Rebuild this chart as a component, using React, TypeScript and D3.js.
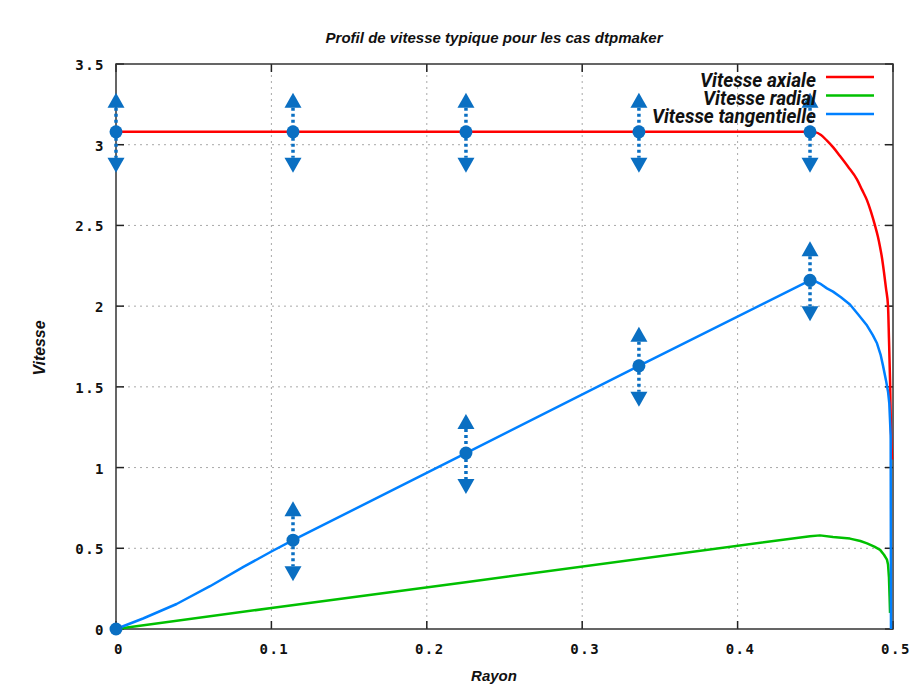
import React from "react";
import * as d3 from "d3";

const xTicks = [0, 0.1, 0.2, 0.3, 0.4, 0.5];
const yTicks = [0, 0.5, 1, 1.5, 2, 2.5, 3, 3.5];
const xTickLabels = ["0", "0.1", "0.2", "0.3", "0.4", "0.5"];
const yTickLabels = ["0", "0.5", "1", "1.5", "2", "2.5", "3", "3.5"];

const axialR = [0, 0.4466, 0.4498, 0.4537, 0.4575, 0.4614, 0.4659, 0.471, 0.4768, 0.4801, 0.4833, 0.4858, 0.4884, 0.4903, 0.4916, 0.4929, 0.4942, 0.4955, 0.4968, 0.4974, 0.4981, 0.4987, 0.4994];
const axialV = [3.08, 3.08, 3.078, 3.06, 3.025, 2.985, 2.93, 2.865, 2.785, 2.72, 2.655, 2.585, 2.5, 2.43, 2.37, 2.3, 2.21, 2.11, 2.0, 1.8, 1.54, 1.23, 1.05];

const radialR = [0, 0.1, 0.225, 0.4466, 0.453, 0.4614, 0.4723, 0.479, 0.4833, 0.488, 0.4917, 0.4942, 0.4961, 0.4968, 0.4974, 0.4978, 0.4981];
const radialV = [0, 0.13, 0.29, 0.575, 0.58, 0.57, 0.56, 0.545, 0.53, 0.51, 0.49, 0.46, 0.43, 0.4, 0.32, 0.2, 0.1];

const tangR = [0, 0.0174, 0.039, 0.0605, 0.082, 0.1, 0.1139, 0.2252, 0.3365, 0.4466, 0.4498, 0.453, 0.4575, 0.4614, 0.4665, 0.4723, 0.4775, 0.4833, 0.487, 0.4897, 0.492, 0.4936, 0.4955, 0.4968, 0.4976, 0.4985, 0.4987];
const tangV = [0, 0.065, 0.155, 0.265, 0.385, 0.48, 0.55, 1.09, 1.63, 2.16, 2.155, 2.14, 2.11, 2.09, 2.055, 2.01, 1.95, 1.88, 1.82, 1.77, 1.7, 1.63, 1.54, 1.47, 1.4, 1.2, 0];

const markerR = [0, 0.1139, 0.2252, 0.3365, 0.4466];
const markerAxialV = [3.08, 3.08, 3.08, 3.08, 3.08];
const markerTangV = [0, 0.55, 1.09, 1.63, 2.16];
const markerTangArrow = [false, true, true, true, true];

const legendLabels = ["Vitesse axiale", "Vitesse radial", "Vitesse tangentielle"];
const legendColors = ["#ff0000", "#00c000", "#0080ff"];
const legendWidths = [116, 113, 164];

const W = 913, H = 688;
const L = 116, R = 893, T = 64, B = 629;
const MC = "#0a6fc2";

export default function App() {
  const x = d3.scaleLinear().domain([0, 0.5]).range([L, R]);
  const y = d3.scaleLinear().domain([0, 3.5]).range([B, T]);
  const lineLin = d3.line<[number, number]>().x((d) => x(d[0])).y((d) => y(d[1]));
  const lineMono = d3.line<[number, number]>().x((d) => x(d[0])).y((d) => y(d[1])).curve(d3.curveMonotoneX);
  const series = [
    { r: axialR, v: axialV, c: legendColors[0], gen: lineMono },
    { r: radialR, v: radialV, c: legendColors[1], gen: lineLin },
    { r: tangR, v: tangV, c: legendColors[2], gen: lineLin },
  ];
  const tri = (cx: number, cy: number, up: boolean) => {
    const h = 15, w = 8.5;
    return up
      ? `M${cx},${cy} L${cx - w},${cy + h} L${cx + w},${cy + h} Z`
      : `M${cx},${cy} L${cx - w},${cy - h} L${cx + w},${cy - h} Z`;
  };
  const marker = (r: number, v: number, arrow: boolean, key: string) => {
    const cx = x(r), cy = y(v);
    return (
      <g key={key}>
        {arrow && (
          <>
            <line x1={cx} x2={cx} y1={cy - 24} y2={cy + 26} stroke={MC} strokeWidth={3.5} strokeDasharray="3,3" />
            <path d={tri(cx, cy - 39, true)} fill={MC} />
            <path d={tri(cx, cy + 41, false)} fill={MC} />
          </>
        )}
        <circle cx={cx} cy={cy} r={6.5} fill={MC} />
      </g>
    );
  };
  const bold = { fontFamily: "Liberation Sans, Arial, sans-serif", fontStyle: "italic", fontWeight: 700 } as const;
  return (
    <svg width={W} height={H} style={{ position: "absolute", left: 0, top: 0, background: "#fff" }}>
      <rect x={0} y={0} width={W} height={H} fill="#fff" />
      {/* grid */}
      <g stroke="#a8a8a8" strokeWidth={1} strokeDasharray="2,4">
        {xTicks.slice(1, -1).map((t) => (
          <line key={"gx" + t} x1={x(t)} x2={x(t)} y1={B} y2={T} />
        ))}
        {yTicks.slice(1, -1).map((t) => (
          <line key={"gy" + t} x1={L} x2={R} y1={y(t)} y2={y(t)} />
        ))}
      </g>
      {/* ticks */}
      <g stroke="#222" strokeWidth={1.5}>
        {xTicks.map((t) => (
          <g key={"tx" + t}>
            <line x1={x(t)} x2={x(t)} y1={B} y2={B - 8} />
            <line x1={x(t)} x2={x(t)} y1={T} y2={T + 8} />
          </g>
        ))}
        {yTicks.map((t) => (
          <g key={"ty" + t}>
            <line x1={L} x2={L + 8} y1={y(t)} y2={y(t)} />
            <line x1={R} x2={R - 8} y1={y(t)} y2={y(t)} />
          </g>
        ))}
      </g>
      <rect x={L} y={T} width={R - L} height={B - T} fill="none" stroke="#333" strokeWidth={1.5} />
      {/* tick labels */}
      <g style={{ fontFamily: "DejaVu Sans Mono, monospace", fontWeight: 700, fontSize: 14, letterSpacing: 1.5 }} fill="#111">
        {xTicks.map((t, i) => (
          <text key={"lx" + t} x={x(t) + 3} y={654} textAnchor="middle">{xTickLabels[i]}</text>
        ))}
        {yTicks.map((t, i) => (
          <text key={"ly" + t} x={105} y={y(t) + 6} textAnchor="end">{yTickLabels[i]}</text>
        ))}
      </g>
      {/* series */}
      {series.map((s, i) => (
        <path key={"s" + i} d={s.gen(s.r.map((r, j) => [r, s.v[j]] as [number, number])) || ""} fill="none" stroke={s.c} strokeWidth={2.5} strokeLinejoin="round" />
      ))}
      {/* markers */}
      {markerR.map((r, i) => marker(r, markerAxialV[i], true, "ma" + i))}
      {markerR.map((r, i) => marker(r, markerTangV[i], markerTangArrow[i], "mt" + i))}
      {/* legend */}
      {legendLabels.map((lab, i) => (
        <g key={"lg" + i}>
          <text x={816} y={87 + i * 18} textAnchor="end" textLength={legendWidths[i]} lengthAdjust="spacingAndGlyphs"
            style={{ fontFamily: "Roboto, sans-serif", fontStyle: "italic", fontWeight: 700, fontSize: 20 }} fill="#111">{lab}</text>
          <line x1={826} x2={874} y1={77 + i * 18.5} y2={77 + i * 18.5} stroke={legendColors[i]} strokeWidth={2.5} />
        </g>
      ))}
      {/* title & axis labels */}
      <text x={494} y={43} textAnchor="middle" textLength={337} lengthAdjust="spacingAndGlyphs" style={{ ...bold, fontSize: 15 }} fill="#111">
        Profil de vitesse typique pour les cas dtpmaker
      </text>
      <text x={494} y={681} textAnchor="middle" style={{ ...bold, fontSize: 15 }} fill="#111">Rayon</text>
      <text transform="translate(45,348) rotate(-90)" textAnchor="middle" textLength={55} lengthAdjust="spacingAndGlyphs" style={{ ...bold, fontSize: 16 }} fill="#111">Vitesse</text>
    </svg>
  );
}
